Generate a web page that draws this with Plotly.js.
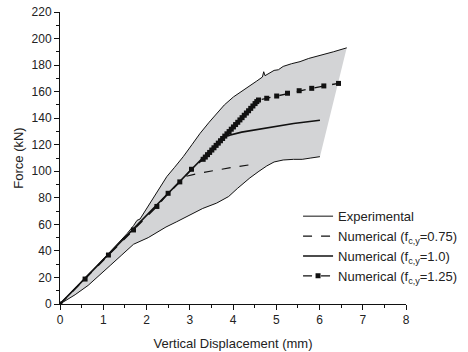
<!DOCTYPE html>
<html>
<head>
<meta charset="utf-8">
<script src="https://cdn.plot.ly/plotly-3.0.1.min.js"></script>
<style>html,body{margin:0;padding:0;background:#fff;}#chart{width:468px;height:352px;}</style>
</head>
<body>
<div id="chart"></div>
<script>
// Experimental envelope: upper boundary
var expUpperX = [0, 0.3, 0.6, 0.92, 1.15, 1.4, 1.55, 1.7, 1.78, 1.85, 2.08, 2.25, 2.47, 2.65, 2.85, 3.05, 3.24, 3.45, 3.62, 3.8, 4.01, 4.2, 4.39, 4.55, 4.68, 4.71, 4.74, 4.95, 5.05, 5.16, 5.35, 5.55, 5.75, 5.93, 6.1, 6.32, 6.63];
var expUpperY = [0, 10.5, 20.5, 31, 39, 48, 53, 59, 63, 64, 76, 85, 96, 103, 111, 120, 128.6, 137, 143.7, 150, 156, 160, 164, 168, 171, 175, 172, 176, 176.5, 179, 181, 182.6, 185, 186.5, 188.5, 190, 193];
// Experimental envelope: lower boundary
var expLowerX = [0, 0.35, 0.65, 0.9, 1.16, 1.43, 1.7, 2.04, 2.25, 2.45, 2.7, 3.0, 3.3, 3.62, 3.9, 4.1, 4.39, 4.6, 4.78, 4.95, 5.16, 5.4, 5.6, 5.8, 6.01];
var expLowerY = [0, 7, 14, 21, 29, 37, 45, 50, 54, 58, 62, 67, 72, 76, 81, 87, 95, 100, 104, 107, 108.5, 109, 109, 110, 111];
// Numerical fc,y = 0.75
var num075X = [0, 2.89, 3.2, 3.6, 4.0, 4.37];
var num075Y = [0, 96, 98.5, 101, 103, 104.8];
// Numerical fc,y = 1.0
var num100X = [0, 3.78, 4.2, 4.8, 5.4, 6.01];
var num100Y = [0, 126, 129.5, 133, 136, 138.5];
// Numerical fc,y = 1.25
var num125X = [0, 0.58, 1.12, 1.70, 2.24, 2.50, 2.77, 3.04, 3.31, 3.36, 3.41, 3.46, 3.51, 3.56, 3.61, 3.66, 3.71, 3.76, 3.81, 3.86, 3.91, 3.96, 4.01, 4.06, 4.11, 4.16, 4.21, 4.26, 4.31, 4.36, 4.41, 4.46, 4.51, 4.55, 4.59, 4.78, 5.01, 5.26, 5.53, 5.82, 6.10, 6.44];
var num125Y = [0, 18.8, 36.9, 55.8, 73.5, 83.4, 92, 101.5, 109, 110.7, 112.5, 114.2, 116.0, 117.7, 119.5, 121.2, 123.0, 124.7, 126.5, 128.2, 129.9, 131.7, 133.4, 135.2, 136.9, 138.7, 140.4, 142.2, 143.9, 145.6, 147.4, 149.2, 151.0, 152.5, 153.7, 155, 156.7, 158.8, 160.7, 162.5, 164.3, 166.2];
// Legend labels
var labels = ["Experimental", "Numerical (f<sub>c,y</sub>=0.75)", "Numerical (f<sub>c,y</sub>=1.0)", "Numerical (f<sub>c,y</sub>=1.25)"];

var polyX = expUpperX.concat(expLowerX.slice().reverse());
var polyY = expUpperY.concat(expLowerY.slice().reverse());

var traces = [
  {x: polyX, y: polyY, mode: 'lines', fill: 'toself', fillcolor: '#d3d4d6', line: {width: 0, color: 'rgba(0,0,0,0)'}, showlegend: false, hoverinfo: 'skip'},
  {x: expLowerX, y: expLowerY, mode: 'lines', line: {color: '#111', width: 1}, showlegend: false},
  {x: expUpperX, y: expUpperY, mode: 'lines', line: {color: '#111', width: 1}, name: labels[0]},
  {x: num075X, y: num075Y, mode: 'lines', line: {color: '#111', width: 1.2, dash: 'dash'}, name: labels[1]},
  {x: num100X, y: num100Y, mode: 'lines', line: {color: '#111', width: 1.6}, name: labels[2]},
  {x: num125X, y: num125Y, mode: 'lines+markers', line: {color: '#111', width: 1.3, dash: 'dash'}, marker: {symbol: 'square', size: 5, color: '#111'}, name: labels[3]}
];

var font = {family: '"Liberation Sans", Arial, Helvetica, sans-serif', color: '#222', size: 12};

var layout = {
  width: 468, height: 352,
  margin: {l: 60, r: 62, t: 12, b: 48, autoexpand: false},
  paper_bgcolor: '#fff', plot_bgcolor: '#fff',
  font: font,
  showlegend: true,
  legend: {x: 0.688, y: 0.352, xanchor: 'left', yanchor: 'top', bgcolor: 'rgba(0,0,0,0)', font: {family: font.family, size: 13, color: '#222'}, tracegroupgap: 0},
  xaxis: {
    range: [0, 8], dtick: 1, tick0: 0, showgrid: false, zeroline: false,
    showline: true, linecolor: '#111', linewidth: 1,
    ticks: 'outside', ticklen: 5, tickwidth: 1, tickcolor: '#111',
    minor: {ticks: 'outside', ticklen: 3, dtick: 0.5, tickcolor: '#111', showgrid: false},
    tickfont: {size: 12, color: '#222'},
    title: {text: 'Vertical Displacement (mm)', font: {size: 13, color: '#222'}, standoff: 12}
  },
  yaxis: {
    range: [0, 220], dtick: 20, tick0: 0, showgrid: false, zeroline: false,
    showline: true, linecolor: '#111', linewidth: 1,
    ticks: 'outside', ticklen: 5, tickwidth: 1, tickcolor: '#111',
    minor: {ticks: 'outside', ticklen: 3, dtick: 10, tickcolor: '#111', showgrid: false},
    tickfont: {size: 12, color: '#222'},
    title: {text: 'Force (kN)', font: {size: 13, color: '#222'}, standoff: 5}
  }
};

Plotly.newPlot('chart', traces, layout, {staticPlot: true, displayModeBar: false});
</script>
</body>
</html>
